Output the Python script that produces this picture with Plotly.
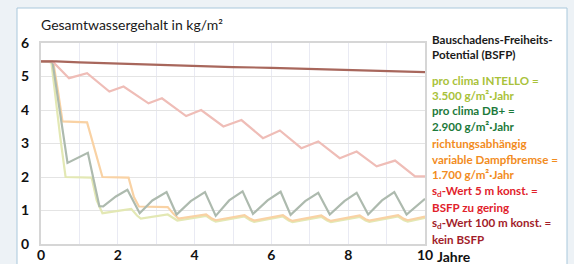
import plotly.graph_objects as go

# ---------------- data ----------------
x_sd100 = [0, 0.4, 1, 2, 3, 4, 5, 6, 7, 8, 9, 10]
y_sd100 = [5.45, 5.45, 5.42, 5.38, 5.35, 5.31, 5.28, 5.26, 5.23, 5.19, 5.16, 5.13]

x_sd5 = [0, 0.3, 0.73, 1.2, 1.78, 2.15, 2.8, 3.15, 3.78, 4.17, 4.75, 5.22,
         5.78, 6.22, 6.78, 7.22, 7.78, 8.22, 8.74, 9.22, 9.74, 10]
y_sd5 = [5.45, 5.45, 4.95, 5.1, 4.55, 4.7, 4.2, 4.35, 3.82, 4.0, 3.51, 3.70,
         3.16, 3.39, 2.86, 3.06, 2.56, 2.76, 2.32, 2.49, 2.02, 2.02]

x_rvd = [0, 0.32, 0.45, 0.56, 1.2, 1.4, 1.6, 2.28, 2.42, 2.55, 3.3, 3.45, 3.58,
         4.3, 4.45, 4.55, 5.3, 5.45, 5.55, 6.3, 6.45, 6.55, 7.3, 7.45, 7.55,
         8.3, 8.45, 8.55, 9.3, 9.45, 9.55, 10]
y_rvd = [5.45, 5.43, 4.5, 3.66, 3.63, 2.8, 2.0, 1.98, 1.4, 1.12, 1.1, 0.9, 0.76,
         0.88, 0.76, 0.71, 0.86, 0.75, 0.70, 0.86, 0.74, 0.69, 0.85, 0.74, 0.69,
         0.85, 0.74, 0.70, 0.86, 0.75, 0.71, 0.82]

x_db = [0, 0.3, 0.69, 1.22, 1.52, 1.62, 1.95, 2.25, 2.57, 2.9, 3.27, 3.53, 3.9,
        4.27, 4.55, 4.9, 5.25, 5.52, 5.9, 6.24, 6.5, 6.88, 7.22, 7.52, 7.9,
        8.22, 8.52, 8.88, 9.2, 9.52, 10]
y_db = [5.45, 5.43, 2.42, 2.72, 1.13, 1.12, 1.42, 1.62, 0.92, 1.3, 1.55, 0.88, 1.28,
        1.55, 0.84, 1.3, 1.57, 0.9, 1.3, 1.56, 0.87, 1.28, 1.53, 0.88, 1.28,
        1.53, 0.88, 1.3, 1.55, 0.88, 1.35]

x_int = [0, 0.27, 0.5, 0.64, 1.32, 1.45, 1.6, 2.35, 2.5, 2.6, 3.3, 3.45, 3.55,
         4.3, 4.45, 4.55, 5.3, 5.45, 5.55, 6.3, 6.45, 6.55, 7.3, 7.45, 7.55,
         8.3, 8.45, 8.55, 9.3, 9.45, 9.55, 10]
y_int = [5.45, 5.43, 3.2, 2.0, 1.98, 1.3, 0.92, 1.05, 0.85, 0.76, 0.88, 0.76, 0.70,
         0.84, 0.72, 0.67, 0.82, 0.71, 0.66, 0.82, 0.70, 0.65, 0.81, 0.70, 0.65,
         0.81, 0.70, 0.66, 0.82, 0.71, 0.67, 0.78]

x_tickvals = [0, 1, 2, 3, 4, 5, 6, 7, 8, 9, 10]
x_ticktext = ["0", "", "2", "", "4", "", "6", "", "8", "", "10"]
y_tickvals = [0, 1, 2, 3, 4, 5, 6]

title_text = "Gesamtwassergehalt in kg/m²"
legend_lines = [
    ("Bauschadens-Freiheits-", "#1a1a1a"),
    ("Potential (BSFP)", "#1a1a1a"),
    ("pro clima INTELLO =", "#a9c23a"),
    ("3.500 g/m²·Jahr", "#a9c23a"),
    ("pro clima DB+ =", "#1d7a3b"),
    ("2.900 g/m²·Jahr", "#1d7a3b"),
    ("richtungsabhängig", "#f28c1e"),
    ("variable Dampfbremse =", "#f28c1e"),
    ("1.700 g/m²·Jahr", "#f28c1e"),
    ("s<sub>d</sub>-Wert 5 m konst. =", "#e1222b"),
    ("BSFP zu gering", "#e1222b"),
    ("s<sub>d</sub>-Wert 100 m konst. =", "#a21d2a"),
    ("kein BSFP", "#a21d2a"),
]
legend_y_px = [39, 55, 80, 95.5, 110.5, 126, 143.5, 159, 174.5, 191, 207, 223.5, 239]

# ---------------- figure ----------------
W, H = 574, 264
L, R, T, B = 41, 425, 43, 244  # plot area in pixels


def px_x(p):
    return (p - L) / (R - L)


def px_y(p):
    return (B - p) / (B - T)


fig = go.Figure()
series = [
    (x_int, y_int, "#e3e8b4"),
    (x_rvd, y_rvd, "#f9d2a4"),
    (x_db, y_db, "#adbaae"),
    (x_sd5, y_sd5, "#efbdb7"),
    (x_sd100, y_sd100, "#a8675c"),
]
for xs, ys, c in series:
    fig.add_trace(go.Scatter(x=xs, y=ys, mode="lines",
                             line=dict(color=c, width=2.2), showlegend=False,
                             hoverinfo="skip"))

tick_font = dict(family="Lato, 'Open Sans', sans-serif", size=14, color="#111111",
                 weight="bold")
fig.update_xaxes(range=[0, 10], tickvals=x_tickvals, ticktext=x_ticktext,
                 showgrid=True, gridcolor="#e9eaf3", gridwidth=1,
                 showline=True, linecolor="#d6d6d6", linewidth=2, mirror=True,
                 zeroline=False, ticks="", tickfont=tick_font, automargin=False,
                 ticklabelstandoff=-3, fixedrange=True)
fig.update_yaxes(range=[0, 6], tickvals=y_tickvals,
                 showgrid=True, gridcolor="#e4e4e4", gridwidth=1,
                 showline=True, linecolor="#d6d6d6", linewidth=2, mirror=True,
                 zeroline=False, ticks="", tickfont=tick_font, automargin=False,
                 ticklabelstandoff=7, fixedrange=True)

shapes = [
    dict(type="rect", xref="paper", yref="paper", layer="below",
         x0=px_x(17), x1=px_x(567), y0=px_y(266), y1=px_y(8),
         fillcolor="#ffffff", line=dict(color="#a9c8dc", width=1)),
]

annotations = [
    dict(text=title_text, xref="paper", yref="paper", x=px_x(40), y=px_y(24),
         xanchor="left", yanchor="middle", showarrow=False, borderpad=0,
         font=dict(family="Lato, 'Open Sans', sans-serif", size=14, color="#1a1a1a")),
    dict(text="Jahre", xref="paper", yref="paper", x=px_x(436), y=px_y(256),
         xanchor="left", yanchor="middle", showarrow=False, borderpad=0,
         font=tick_font),
]
for (txt, col), yp in zip(legend_lines, legend_y_px):
    annotations.append(dict(
        text=txt, xref="paper", yref="paper",
        x=px_x(431), y=px_y(yp), xanchor="left", yanchor="middle",
        showarrow=False, borderpad=0,
        font=dict(family="Lato, sans-serif", size=11.6, color=col, weight="bold")))

fig.update_layout(width=W, height=H, autosize=False,
                  margin=dict(l=L, r=W - R, t=T, b=H - B, pad=0, autoexpand=False),
                  paper_bgcolor="#edf2f6", plot_bgcolor="#ffffff",
                  shapes=shapes, annotations=annotations)

fig.write_html("out.html", config={"displayModeBar": False, "responsive": False},
               post_script="document.body.style.margin='0px';"
                           "document.body.style.background='#edf2f6';")
